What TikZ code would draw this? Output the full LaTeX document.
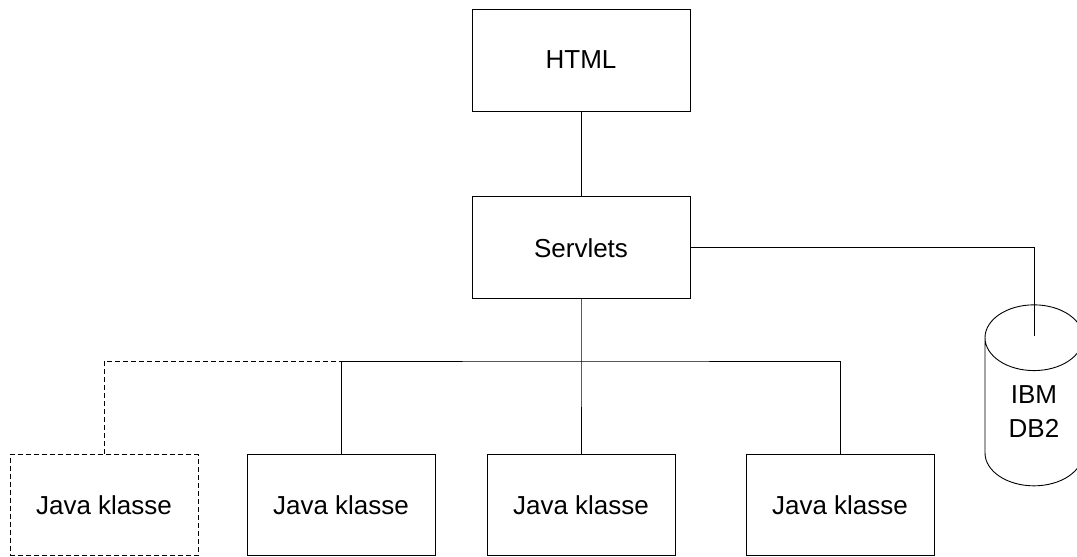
\documentclass[tikz,border=0pt]{standalone}
\usepackage{fontspec}
\setmainfont{Liberation Sans}
\usetikzlibrary{positioning,shapes.geometric}
\tikzset{box/.style={draw,minimum width=188pt,minimum height=101pt,inner sep=0pt},topbox/.style={box,minimum width=218pt,minimum height=102pt},optbox/.style={box,dash pattern=on 5pt off 3pt},dbase/.style={draw,cylinder,shape border rotate=90,aspect=1.3,minimum width=98pt,minimum height=181pt,align=center,inner sep=0pt},optline/.style={dash pattern=on 5pt off 3pt}}
\begin{document}
\begin{tikzpicture}[x=1pt,y=-1pt,line width=0.9pt,font=\fontsize{26}{34}\selectfont]
\useasboundingbox (0,0) rectangle (1077,557);
\node[topbox] (html) at (581,60) {HTML};
\node[topbox,below=85pt of html] (servlets) {Servlets};
\node[optbox] (jk1) at (104,505) {Java klasse};
\node[box] (jk2) at (341,505) {Java klasse};
\node[box] (jk3) at (581,505) {Java klasse};
\node[box] (jk4) at (840,505) {Java klasse};
\node[dbase] (db2) at (1034,412) {IBM\\DB2};
\coordinate (bus) at (581,361);
\draw (html)--(servlets); \draw (servlets.east) -| ([yshift=-32pt]db2.north);
\draw (servlets)--(bus)--(jk3); \draw (jk2.north) |- (bus) -| (jk4.north);
\draw[optline] (jk1.north) |- (jk2.north |- bus);
\end{tikzpicture}
\end{document}
